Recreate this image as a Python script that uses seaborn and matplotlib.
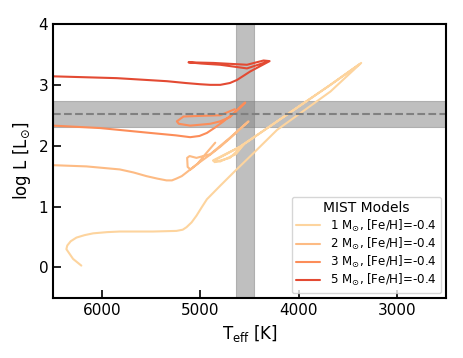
import numpy as np
import pandas as pd
import matplotlib
matplotlib.use("Agg")
import matplotlib.pyplot as plt
import seaborn as sns

# MIST evolutionary tracks, [Fe/H] = -0.4
teff_1 = [6212, 6296, 6364, 6355, 6320, 6262, 6180, 6092, 5950, 5820, 5481, 5244,
          5180, 5142, 5090, 5040, 4990, 4934, 4800, 4663, 4459, 4220, 3677, 3364,
          3677, 4391, 4600, 4867, 4800, 4640, 4560, 4700, 4855, 4870, 4600, 4391,
          3677, 3380]
logl_1 = [0.03, 0.14, 0.30, 0.36, 0.43, 0.49, 0.53, 0.56, 0.58, 0.59, 0.59, 0.60,
          0.62, 0.66, 0.74, 0.85, 0.98, 1.12, 1.34, 1.56, 1.88, 2.26, 2.89, 3.36,
          3.00, 2.21, 1.98, 1.75, 1.74, 1.86, 2.02, 1.80, 1.73, 1.76, 1.98, 2.21,
          3.00, 3.34]

teff_2 = [6500, 6160, 5820, 5680, 5549, 5440, 5345, 5290, 5244, 5190, 5142, 5040,
          4903, 4800, 4700, 4600, 4510, 4700, 4900, 5040, 5110, 5135, 5130, 5100,
          5030, 4950, 4849]
logl_2 = [1.68, 1.66, 1.61, 1.56, 1.50, 1.46, 1.43, 1.43, 1.46, 1.50, 1.56, 1.69,
          1.85, 1.98, 2.12, 2.27, 2.40, 2.13, 1.86, 1.80, 1.83, 1.80, 1.65, 1.61,
          1.70, 1.86, 2.05]

teff_3 = [6500, 6021, 5512, 5250, 5104, 5010, 4934, 4850, 4765, 4650, 4544, 4700,
          4800, 4900, 5104, 5220, 5240, 5172, 5002, 4798, 4650]
logl_3 = [2.33, 2.29, 2.21, 2.17, 2.14, 2.16, 2.21, 2.30, 2.40, 2.55, 2.71, 2.47,
          2.40, 2.36, 2.33, 2.36, 2.40, 2.48, 2.49, 2.50, 2.60]

teff_5 = [6500, 5851, 5341, 5150, 5002, 4900, 4798, 4700, 4628, 4493, 4296, 4357,
          4526, 4867, 5121, 4990, 4798, 4526, 4357, 4320]
logl_5 = [3.14, 3.11, 3.06, 3.03, 3.01, 3.00, 3.00, 3.03, 3.08, 3.22, 3.39, 3.40,
          3.33, 3.36, 3.37, 3.35, 3.33, 3.27, 3.36, 3.39]

masses = [1, 2, 3, 5]
track_colors = ["#fdd49e", "#fdbb84", "#fc8d59", "#e34a33"]

# observed star
teff_obs, teff_err = 4545, 95
logl_obs, logl_err = 2.52, 0.22

tracks = {1: (teff_1, logl_1), 2: (teff_2, logl_2), 3: (teff_3, logl_3), 5: (teff_5, logl_5)}

sns.set_style("ticks", {"axes.edgecolor": "black", "text.color": "black",
                        "axes.labelcolor": "black", "xtick.color": "black",
                        "ytick.color": "black"})
plt.rcParams["font.family"] = ["DejaVu Sans"]

fig = plt.figure(figsize=(4.63, 3.58), dpi=100)
ax = fig.add_axes([0.1145, 0.168, 0.849, 0.765])

for m, c in zip(masses, track_colors):
    t, l = tracks[m]
    df = pd.DataFrame({"teff": t, "logl": l})
    sns.lineplot(data=df, x="teff", y="logl", sort=False, estimator=None,
                 color=c, lw=1.5, ax=ax,
                 label=r"%d M$_{\odot}$, [Fe/H]=-0.4" % m)

ax.axvspan(teff_obs - teff_err, teff_obs + teff_err, color="gray", alpha=0.5, lw=0.8)
ax.axhspan(logl_obs - logl_err, logl_obs + logl_err, color="gray", alpha=0.5, lw=0.8)
ax.axhline(logl_obs, color="gray", ls="--", lw=1.5)

ax.set_xlim(6500, 2500)
ax.set_ylim(-0.5, 4)
ax.set_xticks([6000, 5000, 4000, 3000])
ax.set_yticks([0, 1, 2, 3, 4])
ax.tick_params(direction="in", length=6, width=1.2, labelsize=11, colors="black")
for s in ax.spines.values():
    s.set_linewidth(1.5)
    s.set_color("black")
    s.set_visible(True)

ax.set_xlabel(r"T$_{\rm eff}$ [K]", fontsize=12)
ax.set_ylabel(r"log L [L$_{\odot}$]", fontsize=12)

leg = ax.legend(loc="lower right", title="MIST Models", fontsize=8.6,
                title_fontsize=10, frameon=True, labelspacing=0.18,
                handlelength=2.0, borderaxespad=0.4)

fig.savefig("out.png", dpi=100)
